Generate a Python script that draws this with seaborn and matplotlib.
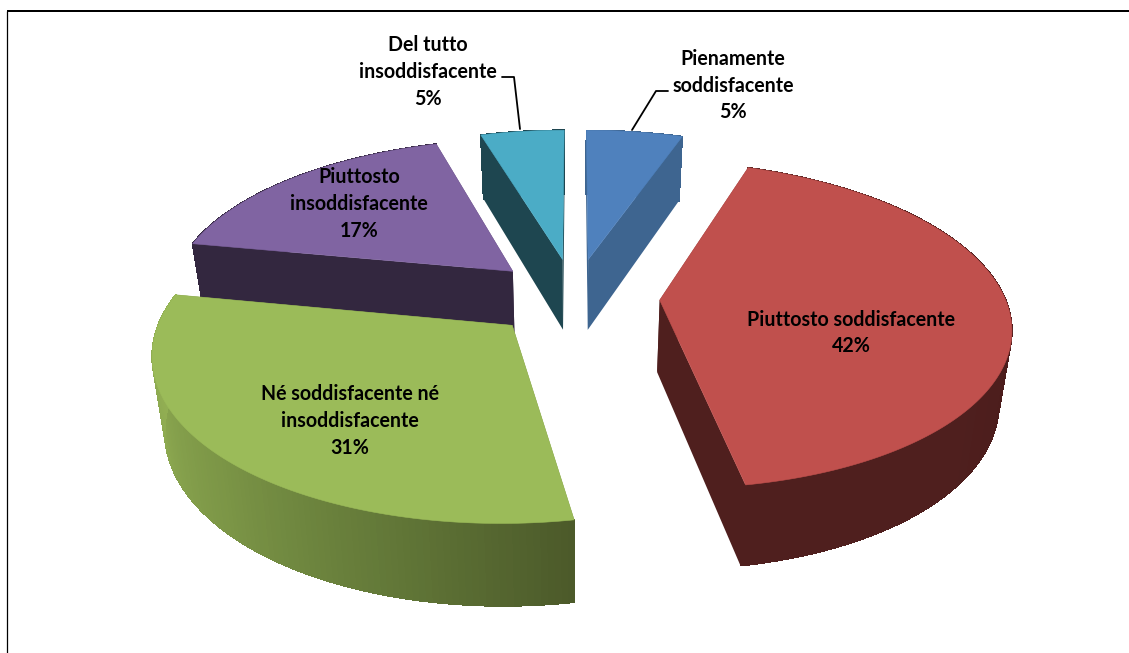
import numpy as np
import matplotlib
matplotlib.use("Agg")
import matplotlib.pyplot as plt
from matplotlib.patches import Polygon
import seaborn as sns

# --- data -----------------------------------------------------------------
categories = ["Pienamente\nsoddisfacente", "Piuttosto soddisfacente",
              "Né soddisfacente né\ninsoddisfacente", "Piuttosto\ninsoddisfacente",
              "Del tutto\ninsoddisfacente"]
values = [5.3, 41.9, 30.8, 17.4, 4.6]
pct_labels = ["5%", "42%", "31%", "17%", "5%"]

# --- style ----------------------------------------------------------------
top_colors = ["#4F81BD", "#C0504D", "#9BBB59", "#8064A2", "#4BACC6"]
wall_colors = ["#3E6590", "#4F1F1E", "#5A6B33", "#33273F", "#1E4650"]
rim_colors = [["#3E6590", "#3E6590"],
              ["#5E2725", "#4E1E1D", "#4A1C1B", "#4F1F1E", "#4F1F1E"],
              ["#4C5A2A", "#647A39", "#7B9546", "#8CA850", "#96B455"],
              ["#33273F", "#33273F"],
              ["#1E4650", "#1E4650"]]
paint_order = [4, 0, 3, 1, 2]
label_pos = [(733, 85.5), (851, 333), (350, 421), (359, 204), (428, 72)]
leaders = {0: [(632, 130), (656, 91), (668, 91)],
           4: [(520, 129), (514, 77), (502, 77)]}

CX, CY, RX, RY, PERSP, DEPTH, EXPLODE = 574.5, 297, 345, 159, 0.15, 72, 0.247
BOTTOM_SHRINK = 0.97

sns.set_theme(style="white")
plt.rcParams["font.family"] = ["Lato", "DejaVu Sans"]

fig = plt.figure(figsize=(11.29, 6.53), dpi=100, facecolor="white")
ax = fig.add_axes([0, 0, 1, 1])
ax.set_xlim(0, 1129)
ax.set_ylim(653, 0)
ax.axis("off")


def project(x, y, z=0.0):
    p = 1.0 / (1.0 + PERSP * y)
    sx = 1.0 - (1.0 - BOTTOM_SHRINK) * z
    return CX + RX * x * p * sx, CY - RY * y * p + DEPTH * z * p ** 0.7


shares = np.asarray(values, dtype=float) / np.sum(values)
edges = np.concatenate([[0], np.cumsum(shares)]) * 2 * np.pi


def slice_geometry(i):
    a0, a1 = edges[i], edges[i + 1]
    mid = (a0 + a1) / 2
    ox, oy = EXPLODE * np.sin(mid), EXPLODE * np.cos(mid)
    t = np.linspace(a0, a1, max(8, int((a1 - a0) * 60)))
    return ox, oy, ox + np.sin(t), oy + np.cos(t)


for i in paint_order:
    ox, oy, xs, ys = slice_geometry(i)
    apex_top = project(ox, oy)
    apex_bot = project(ox, oy, 1)
    rim_top = [project(x, y) for x, y in zip(xs, ys)]
    rim_bot = [project(x, y, 1) for x, y in zip(xs, ys)]
    # radial cut faces
    for k in (0, -1):
        ax.add_patch(Polygon([apex_top, rim_top[k], rim_bot[k], apex_bot],
                             closed=True, fc=wall_colors[i], ec="none"))
    # outer rim: smooth silhouette, then aliased facets for the shading
    shades = sns.blend_palette(rim_colors[i], len(rim_top) - 1)
    ax.add_patch(Polygon(rim_top + rim_bot[::-1], closed=True,
                         fc=shades[len(shades) // 2], ec="none"))
    for j in range(len(rim_top) - 1):
        ax.add_patch(Polygon([rim_top[j], rim_top[j + 1], rim_bot[j + 1], rim_bot[j]],
                             closed=True, fc=shades[j], ec=shades[j], lw=0.5,
                             antialiased=False))
    # top face
    ax.add_patch(Polygon([apex_top] + rim_top, closed=True,
                         fc=top_colors[i], ec=top_colors[i], lw=0.4))

for i, (cat, pct) in enumerate(zip(categories, pct_labels)):
    ax.text(*label_pos[i], f"{cat}\n{pct}", ha="center", va="center",
            fontsize=14.1, fontweight="bold", color="black", linespacing=1.42)

for pts in leaders.values():
    ax.plot(*zip(*pts), color="black", lw=1.3, solid_joinstyle="round")

# chart-area frame: top and left edges only
ax.plot([6.5, 1129], [11, 11], color="black", lw=1.44, solid_capstyle="butt")
ax.plot([6.5, 6.5], [11, 653], color="black", lw=0.9, solid_capstyle="butt")

fig.savefig("out.png", dpi=100, facecolor="white")
